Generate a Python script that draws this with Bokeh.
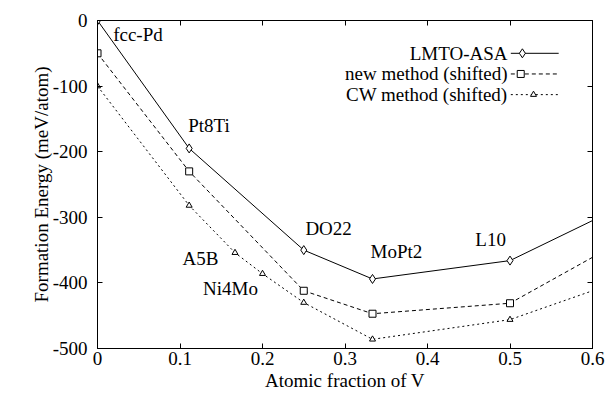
from bokeh.plotting import figure
from bokeh.models import LinearAxis, FixedTicker, Range1d
from bokeh.core.properties import value
from bokeh.embed import file_html
from bokeh.resources import INLINE

# ---- data ----
lmto_x = [0.0, 1/9, 0.25, 1/3, 0.5]
lmto_y = [0, -195, -350, -394, -366]
new_x = [0.0, 1/9, 0.25, 1/3, 0.5]
new_y = [-50, -230, -412, -447, -431]
cw_x = [0.0, 1/9, 1/6, 0.2, 0.25, 1/3, 0.5]
cw_y = [-100, -282, -354, -386, -430, -486, -456]
# line continues to the frame edge (no marker there)
edge_x = 0.6
lmto_edge = -305
new_edge = -361
cw_edge = -412

struct_names = ["fcc-Pd", "Pt8Ti", "A5B", "Ni4Mo", "DO22", "MoPt2", "L10"]
struct_x = [0.019, 0.110, 0.103, 0.128, 0.252, 0.331, 0.458]
struct_y = [-21, -160, -363, -409, -317, -352, -334]

x_ticks = [0, 0.1, 0.2, 0.3, 0.4, 0.5, 0.6]
x_tick_labels = ["0", "0.1", "0.2", "0.3", "0.4", "0.5", "0.6"]
y_ticks = [-500, -400, -300, -200, -100, 0]
y_tick_labels = ["-500", "-400", "-300", "-200", "-100", "0"]

series_names = ["LMTO-ASA", "new method (shifted)", "CW method (shifted)"]

FONT = "Times New Roman, Liberation Serif, DejaVu Serif, serif"
FS = "19px"

p = figure(width=606, height=394, output_backend="svg", toolbar_location=None,
           x_range=Range1d(0, 0.6), y_range=Range1d(-500, 0),
           min_border_left=97, min_border_right=14, min_border_top=20, min_border_bottom=46)
p.grid.visible = False
p.outline_line_color = "black"
p.background_fill_color = "white"
p.border_fill_color = "white"

p.xaxis.ticker = FixedTicker(ticks=x_ticks)
p.yaxis.ticker = FixedTicker(ticks=y_ticks)
p.xaxis.major_label_overrides = dict(zip(x_ticks, x_tick_labels))
p.yaxis.major_label_overrides = dict(zip(y_ticks, y_tick_labels))
p.xaxis.axis_label = "Atomic fraction of V"
p.yaxis.axis_label = "Formation Energy (meV/atom)"
for ax in (p.xaxis[0], p.yaxis[0]):
    ax.axis_label_text_font = FONT
    ax.axis_label_text_font_size = FS
    ax.axis_label_text_font_style = "normal"
    ax.major_label_text_font = FONT
    ax.major_label_text_font_size = FS
    ax.major_tick_in = 5
    ax.major_tick_out = 0
    ax.minor_tick_line_color = None
    ax.axis_line_color = "black"
    ax.major_tick_line_color = "black"
    ax.major_label_text_color = "black"
    ax.axis_label_text_color = "black"
p.xaxis.major_label_standoff = 3
p.xaxis.axis_label_standoff = 2
p.yaxis.major_label_standoff = 10
p.yaxis.axis_label_standoff = -2

# mirrored inward ticks on top and right, without labels
top = LinearAxis(ticker=FixedTicker(ticks=x_ticks), major_label_text_font_size="1px",
                 major_label_text_color=None,
                 major_tick_in=5, major_tick_out=0, minor_tick_line_color=None,
                 major_label_standoff=0)
right = LinearAxis(ticker=FixedTicker(ticks=y_ticks), major_label_text_font_size="1px",
                   major_label_text_color=None,
                   major_tick_in=5, major_tick_out=0, minor_tick_line_color=None,
                   major_label_standoff=0)
p.add_layout(top, "above")
p.add_layout(right, "right")

# ---- series lines ----
p.line(lmto_x + [edge_x], lmto_y + [lmto_edge], line_color="black", line_width=1)
p.line(new_x + [edge_x], new_y + [new_edge], line_color="black", line_width=1, line_dash="4 3")
p.line(cw_x + [edge_x], cw_y + [cw_edge], line_color="black", line_width=1, line_dash="2 3")

p.scatter(lmto_x, lmto_y, marker="diamond", size=9, line_color="black", fill_color="white", line_width=1)
p.scatter(new_x, new_y, marker="square", size=7, line_color="black", fill_color="white", line_width=1)
p.scatter(cw_x, cw_y, marker="triangle", size=6, line_color="black", fill_color="white", line_width=1)

# ---- structure labels ----
p.text(struct_x, struct_y, text=struct_names, text_font=value(FONT), text_font_size=FS,
       text_align="left", text_baseline="middle", text_color="black")

# ---- legend (manual: label right-aligned, key sample on the right) ----
leg_text_x = 0.497
leg_rows_y = [-50, -81.5, -113]
leg_x0, leg_x1 = 0.501, 0.559
leg_marker_x = [0.515, 0.513, 0.5285]
leg_dash = ["solid", "4 3", "2 3"]
leg_markers = ["diamond", "square", "triangle"]
leg_sizes = [9, 7, 6]
p.text([leg_text_x] * 3, leg_rows_y, text=series_names, text_font=value(FONT), text_font_size=FS,
       text_align="right", text_baseline="middle", text_color="black")
for yy, dash, mk, ms, mx in zip(leg_rows_y, leg_dash, leg_markers, leg_sizes, leg_marker_x):
    p.line([leg_x0, leg_x1], [yy, yy], line_color="black", line_width=1, line_dash=dash)
    p.scatter([mx], [yy], marker=mk, size=ms, line_color="black", fill_color="white", line_width=1)

open("out.html", "w").write(file_html(p, INLINE))
